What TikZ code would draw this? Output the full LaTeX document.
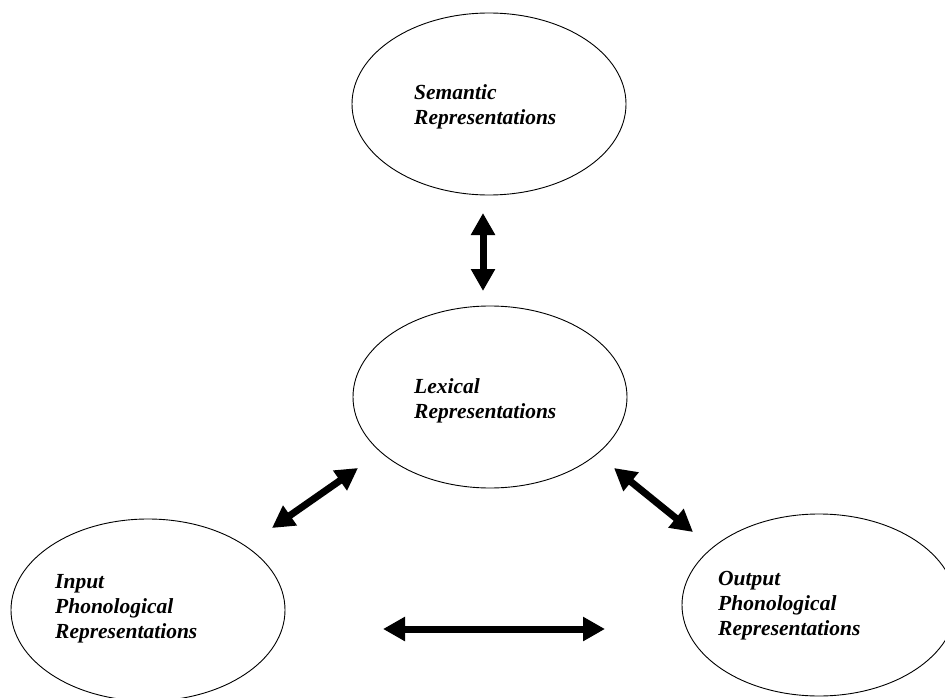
\documentclass[tikz,border=0pt]{standalone}
\usepackage{fontspec}
\setmainfont{Liberation Serif}
\usetikzlibrary{arrows.meta,shapes.geometric}

\begin{document}
\begin{tikzpicture}[x=1pt, y=-1pt,
  level/.style={ellipse, draw=black, line width=0.9pt, minimum width=274pt, minimum height=182pt, inner sep=0pt},
  leveltext/.style={anchor=base west, align=left, inner sep=0pt, font=\fontsize{21.5}{25}\selectfont\bfseries\itshape},
  linkarrow/.style={<->, >={Triangle[length=22pt, width=23pt]}, line width=7pt}
]
  \useasboundingbox (0,0) rectangle (945,698);
  \clip (0,0) rectangle (945,698);

  % Ellipses (explicit positions)
  \node[level] (sem) at (489,104) {};
  \node[level] (lex) at (490,397) {};
  \node[level] (inp) at (148,610) {};
  \node[level] (outp) at (819,605) {};

  % Labels inside the ellipses (placed at the baseline of the last line)
  \node[leveltext] (semtext) at (414,125) {Semantic\\Representations};
  \node[leveltext] (lextext) at (414,418) {Lexical\\Representations};
  \node[leveltext] (inptext) at (55,638) {Input\\Phonological\\Representations};
  \node[leveltext] (outptext) at (718,635) {Output\\Phonological\\Representations};

  % Arrow end points
  \coordinate (semlexA) at (483,213);
  \coordinate (semlexB) at (483,291);
  \coordinate (inplexA) at (272,528);
  \coordinate (inplexB) at (358,468);
  \coordinate (lexoutA) at (614,468);
  \coordinate (lexoutB) at (693,532);
  \coordinate (inpoutA) at (383,629);
  \coordinate (inpoutB) at (605,629);

  % Two-way arrows
  \draw[linkarrow] (semlexA) -- (semlexB);
  \draw[linkarrow] (inplexA) -- (inplexB);
  \draw[linkarrow] (lexoutA) -- (lexoutB);
  \draw[linkarrow] (inpoutA) -- (inpoutB);

\end{tikzpicture}
\end{document}
